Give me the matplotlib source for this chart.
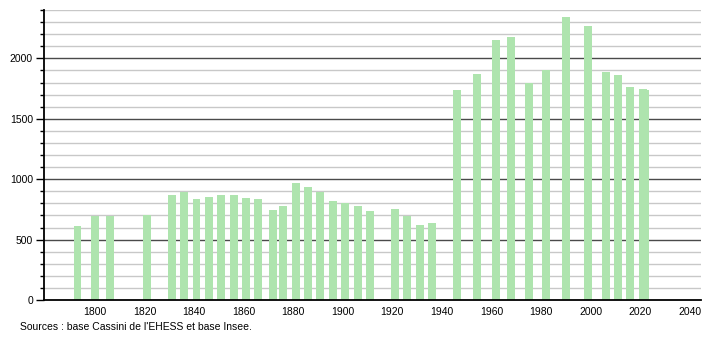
import matplotlib.pyplot as plt
import numpy as np

plt.rcParams['font.family'] = ['Liberation Sans', 'DejaVu Sans']

years = [1793, 1800, 1806, 1821, 1831, 1836, 1841, 1846, 1851, 1856,
         1861, 1866, 1872, 1876, 1881, 1886, 1891, 1896, 1901, 1906,
         1911, 1921, 1926, 1931, 1936, 1946, 1954, 1962, 1968, 1975,
         1982, 1990, 1999, 2006, 2011, 2016, 2021, 2022]
population = [615, 698, 697, 702, 871, 894, 838, 855, 871, 871,
              846, 839, 747, 780, 971, 938, 896, 822, 800, 780,
              739, 752, 697, 622, 639, 1734, 1867, 2149, 2174, 1798,
              1900, 2338, 2266, 1885, 1862, 1760, 1750, 1738]
xticks = list(range(1800, 2041, 20))
yticks = [0, 500, 1000, 1500, 2000]
source = "Sources : base Cassini de l'EHESS et base Insee."

fig = plt.figure(figsize=(7.1, 3.4), dpi=100)
ax = fig.add_axes([44 / 710, 40 / 340, 657 / 710, 290 / 340])

# grille : fine tous les 100, foncée tous les 500
for v in range(100, 2401, 100):
    if v % 500 == 0:
        ax.axhline(v, color='#4a4a4a', lw=1.0, zorder=1)
    else:
        ax.axhline(v, color='#c8c8c8', lw=1.0, zorder=1)

ax.bar(years, population, width=3.2, color='#aee4ae', zorder=2)

ax.set_xlim(1779.5, 2044.5)
ax.set_ylim(0, 2400)
ax.set_xticks(xticks)
ax.set_yticks(yticks)
ax.set_yticks(range(0, 2401, 100), minor=True)
ax.tick_params(axis='x', length=0, labelsize=7.5, pad=5)
ax.tick_params(axis='y', which='major', length=6, width=1, labelsize=7.5, pad=2)
ax.tick_params(axis='y', which='minor', length=3, width=1)
for s in ['top', 'right']:
    ax.spines[s].set_visible(False)
ax.spines['left'].set_linewidth(1.3)
ax.spines['bottom'].set_linewidth(1.3)

fig.text(20 / 710, 1 - 327 / 340, source, fontsize=7.5, va='center', ha='left')

fig.savefig('out.png', dpi=100)
